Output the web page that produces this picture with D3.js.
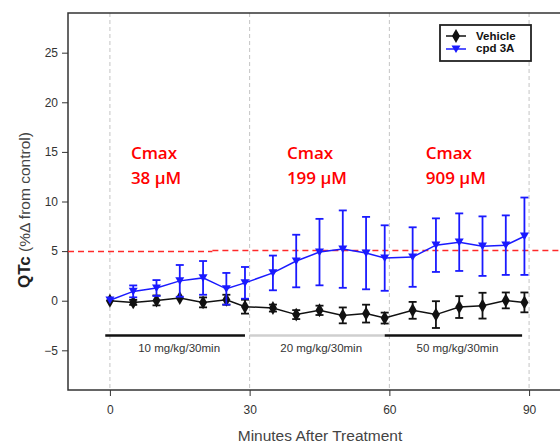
<!DOCTYPE html>
<html>
<head>
<meta charset="utf-8">
<script src="https://cdn.jsdelivr.net/npm/d3@7"></script>
<style>
  body { margin: 0; background: #fff; }
  svg { display: block; font-family: "Liberation Sans", Arial, sans-serif; }
</style>
</head>
<body>
<script>
var svgWidth = 560;
var svgHeight = 444;

// minutes after treatment
var times = [0, 5, 10, 15, 20, 25, 29, 35, 40, 45, 50, 55, 59, 65, 70, 75, 80, 85, 89];
var vehicleMean = [0, -0.17, 0.03, 0.27, -0.17, 0.1, -0.6, -0.74, -1.4, -0.97, -1.48, -1.3, -1.75, -0.97, -1.4, -0.64, -0.5, 0.03, -0.17];
var vehicleErr = [0.1, 0.25, 0.5, 0.15, 0.5, 0.5, 0.7, 0.35, 0.45, 0.47, 0.8, 0.9, 0.55, 0.85, 1.35, 1.1, 1.3, 0.8, 1.0];
var cpdMean = [0.05, 0.94, 1.28, 2.0, 2.3, 1.2, 1.8, 2.8, 4.0, 4.9, 5.2, 4.8, 4.3, 4.4, 5.6, 5.9, 5.5, 5.6, 6.5];
var cpdErr = [0, 0.6, 0.8, 1.6, 1.7, 1.6, 1.6, 1.75, 2.65, 3.35, 3.9, 3.65, 3.3, 3.0, 2.7, 2.9, 3.0, 3.0, 3.9];

var xTicks = [0, 30, 60, 90];
var yTicks = [-5, 0, 5, 10, 15, 20, 25];

// dosing periods
var doseLabels = ['10 mg/kg/30min', '20 mg/kg/30min', '50 mg/kg/30min'];
var doseStart = [-1, 30, 59];
var doseEnd = [29, 59, 88.5];
var doseColors = ['#111', '#cfcfcf', '#111'];
var doseLevel = -3.5;

// Cmax annotations
var cmaxText = ['38 \u00b5M', '199 \u00b5M', '909 \u00b5M'];
var cmaxX = [4.5, 38, 67.8];

// red threshold line (slight step as in the figure)
var threshStart = [-9, 22];
var threshEnd = [22, 99];
var threshVal = [4.97, 5.07];

var x = d3.scaleLinear().domain([-9, 99]).range([68, 571]);
var y = d3.scaleLinear().domain([-9, 29]).range([390, 13]);

var svg = d3.select('body').append('svg')
  .attr('width', svgWidth)
  .attr('height', svgHeight);

// vertical dashed grid
svg.selectAll('.vgrid').data(xTicks).enter().append('line')
  .attr('x1', function(d){ return x(d); })
  .attr('x2', function(d){ return x(d); })
  .attr('y1', y(29)).attr('y2', y(-9))
  .attr('stroke', '#c4c4c4')
  .attr('stroke-width', 1)
  .attr('stroke-dasharray', '4,3');

// frame
svg.append('rect')
  .attr('x', x(-9)).attr('y', y(29))
  .attr('width', x(99) - x(-9)).attr('height', y(-9) - y(29))
  .attr('fill', 'none').attr('stroke', '#333').attr('stroke-width', 1.5);

// axes
var yAxis = svg.append('g').attr('transform', 'translate(' + x(-9) + ',0)')
  .call(d3.axisLeft(y).tickValues(yTicks).tickSize(6).tickPadding(4));
var xAxis = svg.append('g').attr('transform', 'translate(0,' + y(-9) + ')')
  .call(d3.axisBottom(x).tickValues(xTicks).tickSize(6).tickPadding(9));
[yAxis, xAxis].forEach(function(a){
  a.select('.domain').remove();
  a.selectAll('line').attr('stroke', '#333');
  a.selectAll('text').attr('fill', '#333').style('font-size', '12px')
    .style('font-family', '"Liberation Sans", Arial, sans-serif');
});

// axis titles
svg.append('text').text('Minutes After Treatment')
  .attr('x', 320).attr('y', 441)
  .attr('text-anchor', 'middle')
  .style('font-size', '15.5px').attr('fill', '#444');

var yt = svg.append('text')
  .attr('transform', 'translate(30,288) rotate(-90)')
  .attr('fill', '#222');
yt.append('tspan').text('QTc').style('font-weight', 'bold').style('font-size', '17px');
yt.append('tspan').text(' (%\u0394 from control)').attr('fill', '#444').style('font-size', '15.5px');

// threshold
svg.selectAll('.thresh').data(threshVal).enter().append('line')
  .attr('x1', function(d, i){ return x(threshStart[i]); })
  .attr('x2', function(d, i){ return x(threshEnd[i]); })
  .attr('y1', function(d){ return y(d); })
  .attr('y2', function(d){ return y(d); })
  .attr('stroke', '#ff2a2a').attr('stroke-width', 1.5)
  .attr('stroke-dasharray', '6,4');

// dose bars
svg.selectAll('.dose').data(doseLabels).enter().append('line')
  .attr('x1', function(d, i){ return x(doseStart[i]); })
  .attr('x2', function(d, i){ return x(doseEnd[i]); })
  .attr('y1', y(doseLevel)).attr('y2', y(doseLevel))
  .attr('stroke', function(d, i){ return doseColors[i]; })
  .attr('stroke-width', 2.5);
svg.selectAll('.doselab').data(doseLabels).enter().append('text')
  .text(function(d){ return d; })
  .attr('x', function(d, i){ return (x(doseStart[i]) + x(doseEnd[i])) / 2 + 4; })
  .attr('y', y(doseLevel) + 17)
  .attr('text-anchor', 'middle')
  .style('font-size', '11.5px').attr('fill', '#333');

// Cmax labels
cmaxText.forEach(function(t, i){
  var g = svg.append('text')
    .attr('x', x(cmaxX[i])).attr('y', y(14.3))
    .style('font-family', '"Open Sans", sans-serif')
    .style('font-size', '17px').style('font-weight', 600)
    .attr('fill', '#ff0000');
  g.append('tspan').text('Cmax');
  g.append('tspan').text(t).attr('x', x(cmaxX[i])).attr('dy', 25);
});

var diamond = d3.symbol().type(d3.symbolDiamond).size(56);
var triDown = function(cx, cy, s){
  return 'M' + (cx - s) + ',' + (cy - s * 0.8) + 'L' + (cx + s) + ',' + (cy - s * 0.8) + 'L' + cx + ',' + (cy + s * 0.9) + 'Z';
};

var drawSeries = function(mean, err, color, marker){
  var pts = times.map(function(t, i){ return {t: t, m: mean[i], e: err[i]}; });
  var g = svg.append('g');
  g.append('path').datum(pts)
    .attr('fill', 'none').attr('stroke', color).attr('stroke-width', 1.5)
    .attr('d', d3.line().x(function(d){ return x(d.t); }).y(function(d){ return y(d.m); }));
  var eb = g.selectAll('.eb').data(pts.filter(function(d){ return d.e > 0.2; })).enter().append('g');
  eb.append('line')
    .attr('x1', function(d){ return x(d.t); }).attr('x2', function(d){ return x(d.t); })
    .attr('y1', function(d){ return y(d.m - d.e); }).attr('y2', function(d){ return y(d.m + d.e); });
  eb.append('line')
    .attr('x1', function(d){ return x(d.t) - 4; }).attr('x2', function(d){ return x(d.t) + 4; })
    .attr('y1', function(d){ return y(d.m + d.e); }).attr('y2', function(d){ return y(d.m + d.e); });
  eb.append('line')
    .attr('x1', function(d){ return x(d.t) - 4; }).attr('x2', function(d){ return x(d.t) + 4; })
    .attr('y1', function(d){ return y(d.m - d.e); }).attr('y2', function(d){ return y(d.m - d.e); });
  eb.selectAll('line').attr('stroke', color).attr('stroke-width', 1.8);
  if(marker === 'diamond'){
    g.selectAll('.mk').data(pts).enter().append('path')
      .attr('d', diamond)
      .attr('transform', function(d){ return 'translate(' + x(d.t) + ',' + y(d.m) + ')'; })
      .attr('fill', color);
  } else {
    g.selectAll('.mk').data(pts).enter().append('path')
      .attr('d', function(d){ return triDown(x(d.t), y(d.m), 4.5); })
      .attr('fill', color);
  }
};

drawSeries(vehicleMean, vehicleErr, '#111', 'diamond');
drawSeries(cpdMean, cpdErr, '#1a1aff', 'tri');

// legend
var lg = svg.append('g');
lg.append('rect').attr('x', 440).attr('y', 25).attr('width', 91).attr('height', 36)
  .attr('fill', '#fff').attr('stroke', '#222').attr('stroke-width', 1.8);
lg.append('line').attr('x1', 446).attr('x2', 466).attr('y1', 36).attr('y2', 36)
  .attr('stroke', '#111').attr('stroke-width', 1.5);
lg.append('path').attr('d', diamond).attr('transform', 'translate(456,36)').attr('fill', '#111');
lg.append('line').attr('x1', 446).attr('x2', 466).attr('y1', 49).attr('y2', 49)
  .attr('stroke', '#1a1aff').attr('stroke-width', 1.5);
lg.append('path').attr('d', triDown(456, 49, 4.5)).attr('fill', '#1a1aff');
lg.append('text').text('Vehicle').attr('x', 476).attr('y', 40)
  .style('font-size', '11.5px').style('font-weight', 'bold').attr('fill', '#111');
lg.append('text').text('cpd 3A').attr('x', 476).attr('y', 52)
  .style('font-size', '11.5px').style('font-weight', 'bold').attr('fill', '#111');
</script>
</body>
</html>
